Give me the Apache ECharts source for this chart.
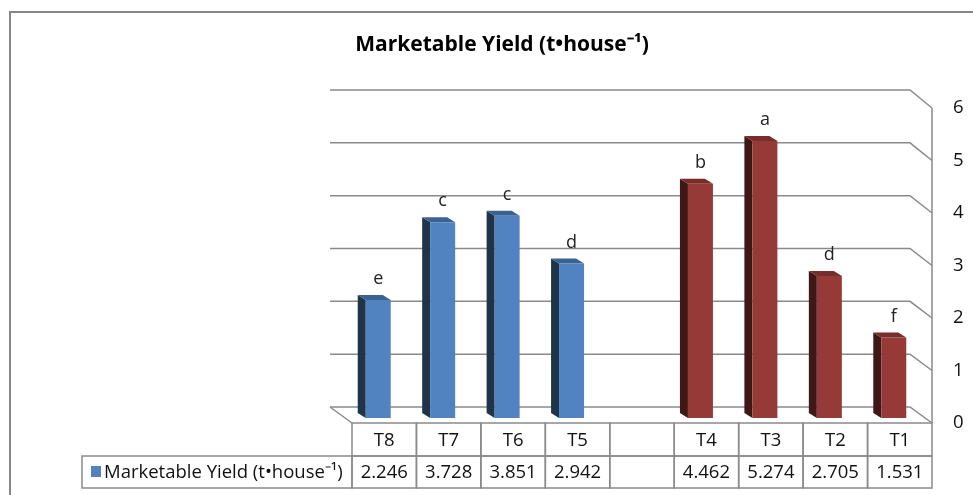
<!DOCTYPE html>
<html>
<head>
<meta charset="utf-8">
<script src="https://cdn.jsdelivr.net/npm/echarts@6/dist/echarts.min.js"></script>
<style>
  html, body { margin: 0; padding: 0; background: #fff; }
  #main { width: 973px; height: 495px; }
</style>
</head>
<body>
<div id="main"></div>
<script>
// 3D 柱状图 + 底部数据表
const categories = ['T8', 'T7', 'T6', 'T5', '', 'T4', 'T3', 'T2', 'T1'];
const yieldValues = [2.246, 3.728, 3.851, 2.942, null, 4.462, 5.274, 2.705, 1.531];
const letters = ['e', 'c', 'c', 'd', '', 'b', 'a', 'd', 'f'];
const colorGroup = ['blue', 'blue', 'blue', 'blue', '', 'red', 'red', 'red', 'red'];
const yTicks = [0, 1, 2, 3, 4, 5, 6];
const seriesName = 'Marketable Yield (t\u2022house\u207B\u00B9)';

const FONT = '"Open Sans"';
const LINE = '#8a8a8a';
const palette = {
    blue: { front: '#5083c0', side: '#1f3449', top: '#3b6392' },
    red: { front: '#963a37', side: '#3d1817', top: '#762d2b' }
};

const chart = echarts.init(document.getElementById('main'));

// 背墙网格线 + 地板
function renderGrid(params, api) {
    const v = api.value(1);
    const cs = params.coordSys;
    const gl = cs.x, gr = cs.x + cs.width;
    const yf = api.coord([0, v])[1];
    const yb = yf - 16 - v / 3;
    const children = [{
        type: 'polyline',
        shape: { points: [[gl - 22, yb], [gr - 22, yb], [gr, yf]] },
        style: { stroke: LINE, lineWidth: 1.5, fill: null }
    }];
    if (v === 0) {
        children.push({
            type: 'polyline',
            shape: { points: [[gl, yf], [gl - 22, yb]] },
            style: { stroke: LINE, lineWidth: 1.5, fill: null }
        });
        const yTop = api.coord([0, yTicks[yTicks.length - 1]])[1];
        children.push({
            type: 'line',
            shape: { x1: gr, y1: yTop, x2: gr, y2: yf },
            style: { stroke: LINE, lineWidth: 1.5 }
        });
    }
    return { type: 'group', children: children };
}

// 立体柱子
function renderBar(params, api) {
    const i = api.value(0);
    const v = api.value(1);
    if (v == null || isNaN(v)) return null;
    const base = api.coord([i, 0]);
    const top = api.coord([i, v]);
    const cx = base[0] - 6;
    const by = base[1] - 5, ty = top[1] - 5;
    const w = 25, dx = 8, dy = 5;
    const x0 = cx - w / 2, x1 = cx + w / 2;
    const c = palette[colorGroup[i]];
    return {
        type: 'group',
        children: [
            { type: 'polygon', shape: { points: [[x0, ty], [x0 - dx, ty - dy], [x0 - dx, by - dy], [x0, by]] }, style: { fill: c.side } },
            { type: 'polygon', shape: { points: [[x0, ty], [x0 - dx, ty - dy], [x1 - dx, ty - dy], [x1, ty]] }, style: { fill: c.top } },
            { type: 'rect', shape: { x: x0, y: ty, width: w, height: by - ty }, style: { fill: c.front } },
            {
                type: 'text', x: cx, y: ty - 21,
                style: { text: letters[i], fill: '#222', font: '18px ' + FONT, align: 'center', verticalAlign: 'middle' }
            }
        ]
    };
}

// 数据表
function renderTable(params, api) {
    const i = api.value(0);
    const v = api.value(1);
    const c = api.coord([i, 0]);
    const w = api.size([1, 0])[0];
    const x = c[0] - w / 2;
    const r0 = c[1], r1 = c[1] + 33, r2 = c[1] + 65;
    return {
        type: 'group',
        children: [
            { type: 'rect', shape: { x: x, y: r0, width: w, height: r1 - r0 }, style: { fill: null, stroke: LINE, lineWidth: 1.5 } },
            { type: 'rect', shape: { x: x, y: r1, width: w, height: r2 - r1 }, style: { fill: null, stroke: LINE, lineWidth: 1.5 } },
            { type: 'text', x: c[0], y: (r0 + r1) / 2 + 1, style: { text: categories[i], fill: '#111', font: '18.5px ' + FONT, align: 'center', verticalAlign: 'middle' } },
            { type: 'text', x: c[0], y: (r1 + r2) / 2 + 1, style: { text: (v == null || isNaN(v)) ? '' : v.toFixed(3), fill: '#111', font: '18.5px ' + FONT, align: 'center', verticalAlign: 'middle' } }
        ]
    };
}

const option = {
    animation: false,
    title: {
        text: seriesName,
        left: 497,
        textAlign: 'center',
        top: 30,
        textStyle: { fontFamily: FONT, fontSize: 21, fontWeight: 'bold', color: '#000' }
    },
    grid: { left: 352, right: 41, top: 108, bottom: 72 },
    xAxis: {
        type: 'category',
        data: categories,
        axisLine: { show: false },
        axisTick: { show: false },
        axisLabel: { show: false }
    },
    yAxis: {
        type: 'value',
        position: 'right',
        min: 0,
        max: 6,
        interval: 1,
        axisLine: { show: false },
        axisTick: { show: false },
        splitLine: { show: false },
        axisLabel: { margin: 21, color: '#111', fontFamily: FONT, fontSize: 18.5 }
    },
    graphic: [
        {
            type: 'rect', shape: { x: 10, y: 12, width: 1000, height: 600 },
            style: { fill: null, stroke: '#868686', lineWidth: 2 }, z: -1
        },
        {
            type: 'rect', shape: { x: 82, y: 456, width: 270, height: 32 },
            style: { fill: null, stroke: LINE, lineWidth: 1.5 }
        },
        {
            type: 'rect', shape: { x: 91, y: 466, width: 10, height: 11 },
            style: { fill: palette.blue.front }
        },
        {
            type: 'text', x: 104, y: 473,
            style: { text: seriesName, fill: '#111', font: '18.5px ' + FONT, verticalAlign: 'middle' }
        }
    ],
    series: [
        { type: 'custom', renderItem: renderGrid, data: yTicks.map(t => [0, t]), z: 1, silent: true },
        { type: 'custom', renderItem: renderBar, data: yieldValues.map((v, i) => [i, v]), z: 3 },
        { type: 'custom', renderItem: renderTable, data: yieldValues.map((v, i) => [i, v]), z: 2 }
    ]
};
chart.setOption(option);
</script>
</body>
</html>
